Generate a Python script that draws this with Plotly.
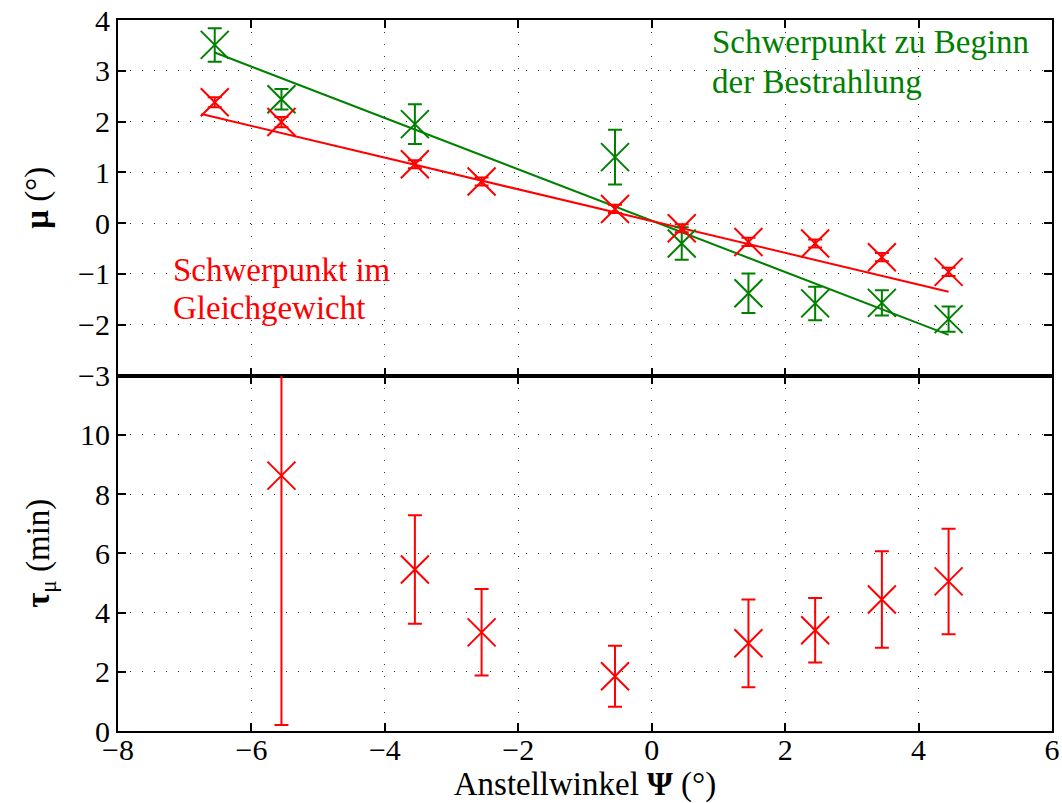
import plotly.graph_objects as go
from plotly.subplots import make_subplots

# Anstellwinkel of each measurement (degrees)
psi = [-6.55, -5.55, -3.55, -2.55, -0.55, 0.45, 1.45, 2.45, 3.45, 4.45]

# Schwerpunkt im Gleichgewicht (red)
mu_eq = [2.38, 1.99, 1.16, 0.82, 0.28, -0.10, -0.37, -0.40, -0.67, -0.96]
mu_eq_err = [0.10, 0.10, 0.08, 0.08, 0.08, 0.08, 0.08, 0.08, 0.08, 0.08]

# Schwerpunkt zu Beginn der Bestrahlung (green)
mu_start = [3.51, 2.44, 1.95, None, 1.30, -0.40, -1.38, -1.58, -1.57, -1.89]
mu_start_err = [0.33, 0.20, 0.39, 0, 0.54, 0.32, 0.39, 0.33, 0.25, 0.25]

# Linear fits (endpoints)
fit_eq_x = [-6.75, 4.45]
fit_eq_y = [2.15, -1.35]
fit_start_x = [-6.55, 4.45]
fit_start_y = [3.36, -2.20]

# Zeitkonstante tau_mu (min)
psi_tau = [-5.55, -3.55, -2.55, -0.55, 1.45, 2.45, 3.45, 4.45]
tau = [8.62, 5.45, 3.33, 1.85, 2.96, 3.40, 4.44, 5.05]
tau_err = [8.42, 1.83, 1.46, 1.03, 1.48, 1.09, 1.63, 1.78]

RED = "#ff0000"
GREEN = "#008000"
FONT = "Liberation Serif"
TICK_FS = 30
TEXT_FS = 33

fig = make_subplots(rows=2, cols=1, shared_xaxes=True, vertical_spacing=0)

def marker(color):
    return dict(symbol="x-thin-open", size=28, color=color, line=dict(width=2, color=color))

def errs(vals, color):
    return dict(type="data", array=vals, visible=True, color=color, thickness=2, width=7)

fig.add_trace(go.Scatter(x=fit_start_x, y=fit_start_y, mode="lines",
                         line=dict(color=GREEN, width=2), showlegend=False), row=1, col=1)
fig.add_trace(go.Scatter(x=fit_eq_x, y=fit_eq_y, mode="lines",
                         line=dict(color=RED, width=2), showlegend=False), row=1, col=1)
fig.add_trace(go.Scatter(x=psi, y=mu_start, mode="markers", marker=marker(GREEN),
                         error_y=errs(mu_start_err, GREEN), showlegend=False), row=1, col=1)
fig.add_trace(go.Scatter(x=psi, y=mu_eq, mode="markers", marker=marker(RED),
                         error_y=errs(mu_eq_err, RED), showlegend=False), row=1, col=1)
fig.add_trace(go.Scatter(x=psi_tau, y=tau, mode="markers", marker=marker(RED),
                         error_y=errs(tau_err, RED), showlegend=False), row=2, col=1)

axis_style = dict(showgrid=True, gridcolor="#333333", gridwidth=1, griddash="1px,11px",
                  zeroline=False, showline=True, linecolor="black", linewidth=2,
                  mirror="ticks", ticks="inside", ticklen=8, tickwidth=1.5, tickcolor="black",
                  automargin=False,
                  tickfont=dict(family=FONT, size=TICK_FS, color="black"))
title_font = dict(family=FONT, size=TEXT_FS, color="black")

fig.update_xaxes(range=[-8, 6], dtick=2, **axis_style)
fig.update_xaxes(showticklabels=False, row=1, col=1)
fig.update_xaxes(ticklabelstandoff=-9,
                 title=dict(text="Anstellwinkel <b>Ψ</b> (°)", font=title_font, standoff=12),
                 row=2, col=1)
fig.update_yaxes(range=[-3, 4], dtick=1,
                 title=dict(text="<b>μ</b> (°)", font=title_font, standoff=20),
                 row=1, col=1, **axis_style)
fig.update_yaxes(range=[0, 12], tickvals=[0, 2, 4, 6, 8, 10, 12],
                 ticktext=["0", "2", "4", "6", "8", "10", ""],
                 title=dict(text="<b>τ</b><sub>μ</sub> (min)", font=title_font, standoff=20),
                 row=2, col=1, **axis_style)

# Labels for the two series, one line per annotation
for txt, yy in [("Schwerpunkt zu Beginn", 3.57), ("der Bestrahlung", 2.78)]:
    fig.add_annotation(x=0.88, y=yy, xref="x", yref="y", xanchor="left", yanchor="middle",
                       text=txt, showarrow=False, font=dict(family=FONT, size=TEXT_FS, color=GREEN))
for txt, yy in [("Schwerpunkt im", -0.93), ("Gleichgewicht", -1.68)]:
    fig.add_annotation(x=-7.2, y=yy, xref="x", yref="y", xanchor="left", yanchor="middle",
                       text=txt, showarrow=False, font=dict(family=FONT, size=TEXT_FS, color=RED))

fig.update_layout(width=1062, height=803, margin=dict(l=118, r=10, t=20, b=72),
                  plot_bgcolor="white", paper_bgcolor="white",
                  font=dict(family=FONT, size=TEXT_FS, color="black"))

fig.write_html("out.html")
